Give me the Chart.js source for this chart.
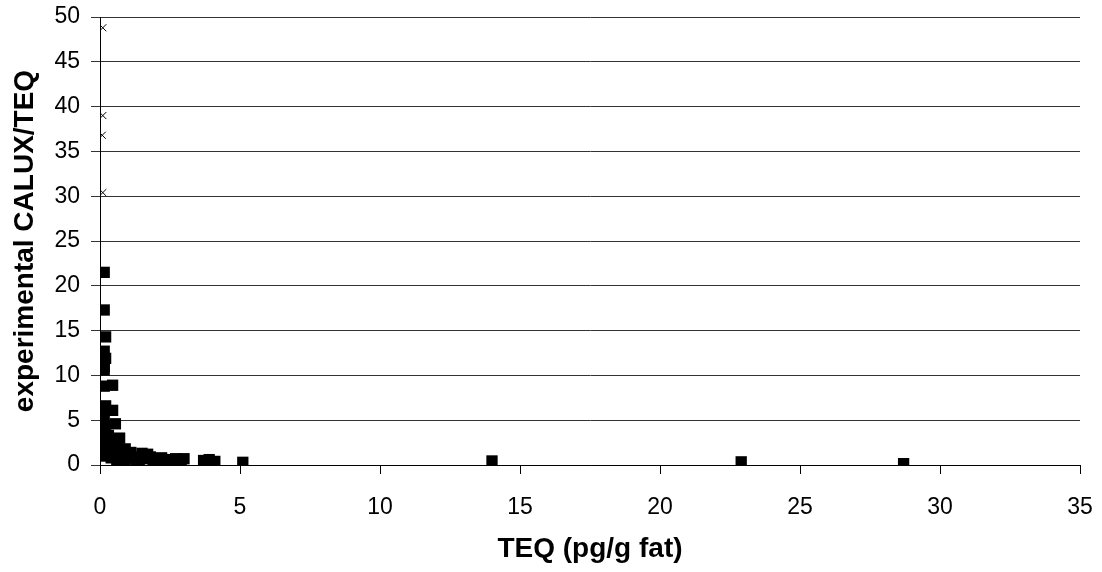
<!DOCTYPE html>
<html>
<head>
<meta charset="utf-8">
<script src="https://cdn.jsdelivr.net/npm/chart.js@4/dist/chart.umd.min.js"></script>
<style>
html,body{margin:0;padding:0;background:#fff;}
#wrap{width:1102px;height:572px;}
</style>
</head>
<body>
<div id="wrap"><canvas id="c" width="1102" height="572"></canvas></div>
<script>
// Series 1: squares (TEQ, CALUX/TEQ)
const squareX = [0.15,0.15,0.2,0.15,0.2,0.15,0.15,0.15,0.45,0.2,0.45,0.1,0.15,0.1,0.55,0.2,0.05,0.15,0.7,0.05,0.25,0.1,0.35,0.6,0.2,0.9,0.5,1.1,0.3,0.7,1.5,1.7,0.8,0.6,1.0,1.3,1.8,2.0,2.2,2.4,2.7,2.9,3.7,3.9,4.1,5.1,1.4,2.1,14.0,22.9,28.7,1.2,1.6,2.5,2.8,3.0,0.9,1.9,0.4,0.15,0.05,0.3,0.1,0.8];
const squareY = [21.5,17.3,14.3,12.7,11.9,11.0,10.6,8.8,8.9,6.6,6.1,6.0,5.5,5.0,4.6,4.3,3.8,3.4,3.0,2.9,2.6,2.3,2.0,2.2,1.8,1.8,1.5,1.4,1.2,1.0,1.3,1.2,0.5,0.3,0.8,0.6,0.9,0.7,0.8,0.6,0.7,0.6,0.5,0.6,0.4,0.3,0.3,0.4,0.45,0.35,0.15,0.9,0.7,0.5,0.4,0.7,0.2,0.3,0.8,1.0,1.6,3.3,4.1,0.1];
// Series 2: crosses
const crossX = [0.1,0.1,0.08,0.1];
const crossY = [48.8,39.0,36.8,30.4];
const xTicks = [0,5,10,15,20,25,30,35];
const yTicks = [0,5,10,15,20,25,30,35,40,45,50];

const toPts = (xs, ys) => xs.map((x, i) => ({x: x, y: ys[i]}));

Chart.defaults.font.family = "'Liberation Sans', Arial, sans-serif";
Chart.defaults.color = '#000';

function noOverflow(s) {
  s.paddingTop = 0; s.paddingBottom = 0; s.paddingLeft = 0; s.paddingRight = 0;
}

new Chart(document.getElementById('c'), {
  type: 'scatter',
  data: {
    datasets: [
      {
        label: 'squares',
        data: toPts(squareX, squareY),
        pointStyle: 'rect',
        pointRadius: 8,
        pointHoverRadius: 8,
        backgroundColor: '#000',
        borderColor: '#000',
        borderWidth: 0
      },
      {
        label: 'crosses',
        data: toPts(crossX, crossY),
        pointStyle: 'crossRot',
        pointRadius: 5,
        pointHoverRadius: 5,
        borderColor: '#000',
        backgroundColor: '#000',
        borderWidth: 1
      }
    ]
  },
  options: {
    responsive: false,
    animation: false,
    devicePixelRatio: 1,
    layout: {padding: {top: 17, right: 22, left: 0, bottom: 0}},
    plugins: {legend: {display: false}, tooltip: {enabled: false}},
    scales: {
      x: {
        type: 'linear',
        min: 0, max: 35,
        afterBuildTicks: s => { s.ticks = xTicks.map(v => ({value: v})); },
        afterFit: s => { s.height = 107; noOverflow(s); },
        ticks: {font: {size: 23}, padding: 20, maxRotation: 0},
        grid: {drawOnChartArea: false, drawTicks: true, tickLength: 9, color: '#000'},
        border: {display: true, color: '#000', width: 1},
        title: {display: true, text: 'TEQ (pg/g fat)', font: {size: 28, weight: 'bold'}, padding: {top: 0, bottom: 6}}
      },
      y: {
        type: 'linear',
        min: 0, max: 50,
        afterBuildTicks: s => { s.ticks = yTicks.map(v => ({value: v})); },
        afterFit: s => { s.width = 100; noOverflow(s); },
        ticks: {font: {size: 23}, padding: 11},
        grid: {drawOnChartArea: true, drawTicks: true, tickLength: 9, color: '#333'},
        border: {display: true, color: '#000', width: 1},
        title: {display: true, text: 'experimental CALUX/TEQ', font: {size: 28, weight: 'bold'}, padding: {top: 8, bottom: 0}}
      }
    }
  }
});
</script>
</body>
</html>
